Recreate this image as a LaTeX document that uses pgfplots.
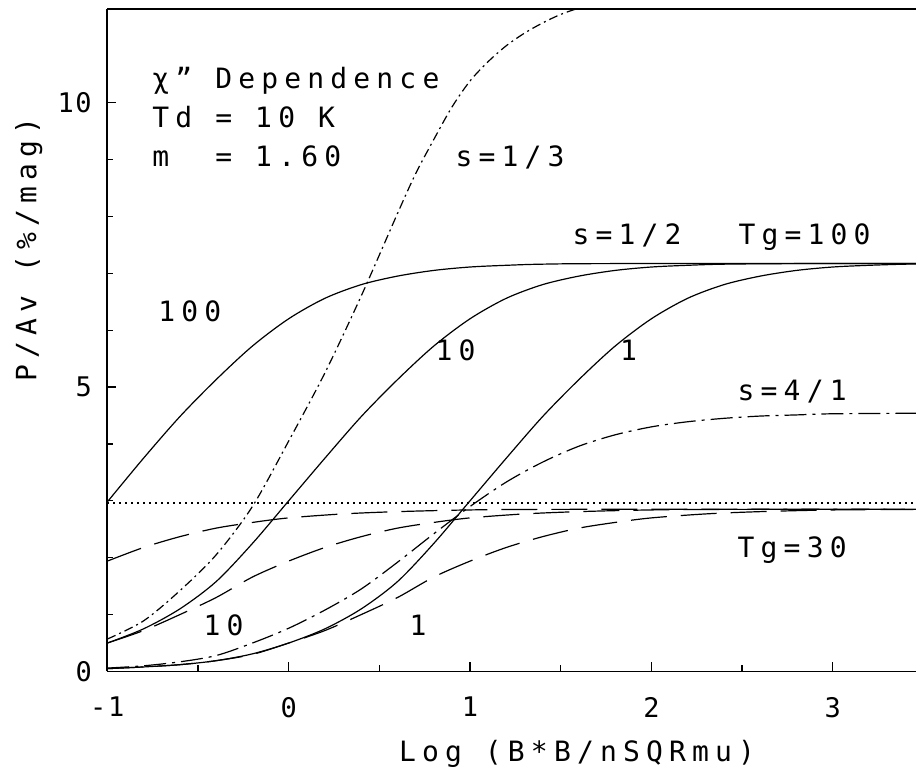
\documentclass[border=0pt]{standalone}
\usepackage{fontspec}
\setmainfont{DejaVu Sans Mono}[LetterSpace=22]
\newfontfamily\tickfont{DejaVu Sans Mono}[LetterSpace=6]
\usepackage{pgfplots}
\pgfplotsset{compat=1.18}
\newcommand\mainsize{\fontsize{28}{34}\selectfont}
\newcommand\ticksize{\tickfont\fontsize{27}{32}\selectfont}
\begin{document}
\begin{tikzpicture}
\begin{axis}[
  scale only axis, width=808.7pt, height=662.2pt,
  xmin=-1, xmax=3.459, ymin=0, ymax=11.64,
  axis lines=left, axis line style={-, line width=1.6pt},
  clip mode=individual,
  tick align=inside,
  xtick={-1,0,1,2,3}, minor x tick num=1,
  ytick={0,5,10}, minor y tick num=4,
  yticklabels={0,5,{10\hspace{8pt}}},
  major tick length=9pt, minor tick length=6pt,
  every tick/.style={line width=1.2pt, black},
  /pgf/number format/assume math mode=true,
  tick label style={font=\ticksize},
  xticklabel style={anchor=north, yshift=-22pt},
  yticklabel style={anchor=east, xshift=-12pt},
  every axis plot/.append style={line width=1.2pt, black, smooth, no markers},
]
% solid family (s=1/2, Tg=100)
\addplot[solid] coordinates {(-1.0,2.98) (-0.8,3.75) (-0.6,4.48) (-0.4,5.13) (-0.2,5.72) (0.0,6.20) (0.2,6.56) (0.4,6.80) (0.6,6.95) (0.8,7.05) (1.0,7.11) (1.2,7.14) (1.4,7.16) (1.8,7.17) (3.5,7.17)};
\addplot[solid] coordinates {(-1.0,0.50) (-0.8,0.75) (-0.6,1.10) (-0.4,1.58) (-0.2,2.25) (0.0,3.00) (0.2,3.75) (0.4,4.48) (0.6,5.13) (0.8,5.72) (1.0,6.20) (1.2,6.56) (1.4,6.80) (1.6,6.95) (1.8,7.05) (2.0,7.11) (2.2,7.14) (2.4,7.16) (2.8,7.17) (3.5,7.17)};
\addplot[solid] coordinates {(-1.0,0.05) (-0.8,0.08) (-0.6,0.12) (-0.4,0.19) (-0.2,0.31) (0.0,0.50) (0.2,0.75) (0.4,1.10) (0.6,1.58) (0.8,2.25) (1.0,3.00) (1.2,3.75) (1.4,4.48) (1.6,5.13) (1.8,5.72) (2.0,6.20) (2.2,6.56) (2.4,6.80) (2.6,6.95) (2.8,7.05) (3.0,7.11) (3.2,7.14) (3.4,7.16) (3.5,7.16)};
% long dashed family (Tg=30)
\addplot[dash pattern=on 36pt off 14pt] coordinates {(-1.0,1.94) (-0.8,2.18) (-0.6,2.37) (-0.4,2.52) (-0.2,2.62) (0.0,2.70) (0.3,2.77) (0.6,2.81) (1.0,2.84) (1.5,2.85) (3.5,2.85)};
\addplot[dash pattern=on 36pt off 14pt] coordinates {(-1.0,0.50) (-0.8,0.72) (-0.6,1.00) (-0.4,1.30) (-0.2,1.66) (0.0,1.94) (0.2,2.18) (0.4,2.37) (0.6,2.52) (0.8,2.62) (1.0,2.70) (1.3,2.77) (1.6,2.81) (2.0,2.84) (2.5,2.85) (3.5,2.85)};
\addplot[dash pattern=on 36pt off 14pt] coordinates {(-1.0,0.05) (-0.8,0.08) (-0.6,0.12) (-0.4,0.19) (-0.2,0.30) (0.0,0.50) (0.2,0.72) (0.4,1.00) (0.6,1.30) (0.8,1.66) (1.0,1.94) (1.2,2.18) (1.4,2.37) (1.6,2.52) (1.8,2.62) (2.0,2.70) (2.3,2.77) (2.6,2.81) (3.0,2.84) (3.5,2.85)};
% dotted horizontal
\addplot[line width=2pt, dash pattern=on 2pt off 4pt, sharp plot] coordinates {(-1.0,2.97) (3.5,2.97)};
% s = 1/3
\addplot[dash pattern=on 9pt off 4pt on 2pt off 4pt] coordinates {(-1.0,0.57) (-0.8,0.89) (-0.6,1.42) (-0.4,2.05) (-0.2,2.90) (0.0,4.05) (0.2,5.25) (0.4,6.60) (0.6,8.05) (0.7,8.75) (0.8,9.35) (0.9,9.92) (1.0,10.38) (1.1,10.72) (1.2,11.00) (1.3,11.22) (1.4,11.40) (1.5,11.55) (1.6,11.66) (1.8,11.85)};
% s = 4/1
\addplot[dash pattern=on 22pt off 6pt on 3pt off 6pt] coordinates {(-1.0,0.06) (-0.8,0.10) (-0.6,0.17) (-0.4,0.28) (-0.2,0.50) (0.0,0.76) (0.2,1.08) (0.4,1.45) (0.6,1.92) (0.8,2.42) (1.0,2.90) (1.2,3.33) (1.4,3.68) (1.6,3.96) (1.8,4.16) (2.0,4.30) (2.2,4.39) (2.4,4.45) (2.6,4.49) (2.8,4.51) (3.0,4.53) (3.5,4.54)};
% top frame line
\draw[line width=1.6pt] (rel axis cs:0,1) -- (rel axis cs:1,1);
% annotations
\begin{scope}[every node/.style={font=\mainsize, inner sep=0pt, anchor=base west}]
\node at (axis cs:-0.752,10.25) {χ{\char34} Dependence};
\node at (axis cs:-0.752,9.57) {Td = 10 K};
\node at (axis cs:-0.752,8.88) {m\ \ = 1.60};
\node at (axis cs:0.919,8.87) {s=1/3};
\node at (axis cs:1.565,7.50) {s=1/2};
\node at (axis cs:2.48,7.50) {Tg=100};
\node at (axis cs:2.475,4.77) {s=4/1};
\node at (axis cs:2.475,2.01) {Tg=30};
\node at (axis cs:-0.719,6.16) {100};
\node at (axis cs:0.809,5.47) {10};
\node[anchor=base] at (axis cs:1.874,5.46) {1};
\node at (axis cs:-0.47,0.64) {10};
\node[anchor=base] at (axis cs:0.713,0.64) {1};
\node[anchor=base] at ([yshift=-90pt]axis cs:1.59,0) {Log (B*B/nSQRmu)};
\node[rotate=90, anchor=base] at ([xshift=-71pt]axis cs:-1,7.41) {P/Av (\%/mag)};
\end{scope}
\end{axis}
\pgfresetboundingbox
\path[use as bounding box] (-107.3pt,-101.5pt) rectangle (808.7pt,671.5pt);
\end{tikzpicture}
\end{document}
